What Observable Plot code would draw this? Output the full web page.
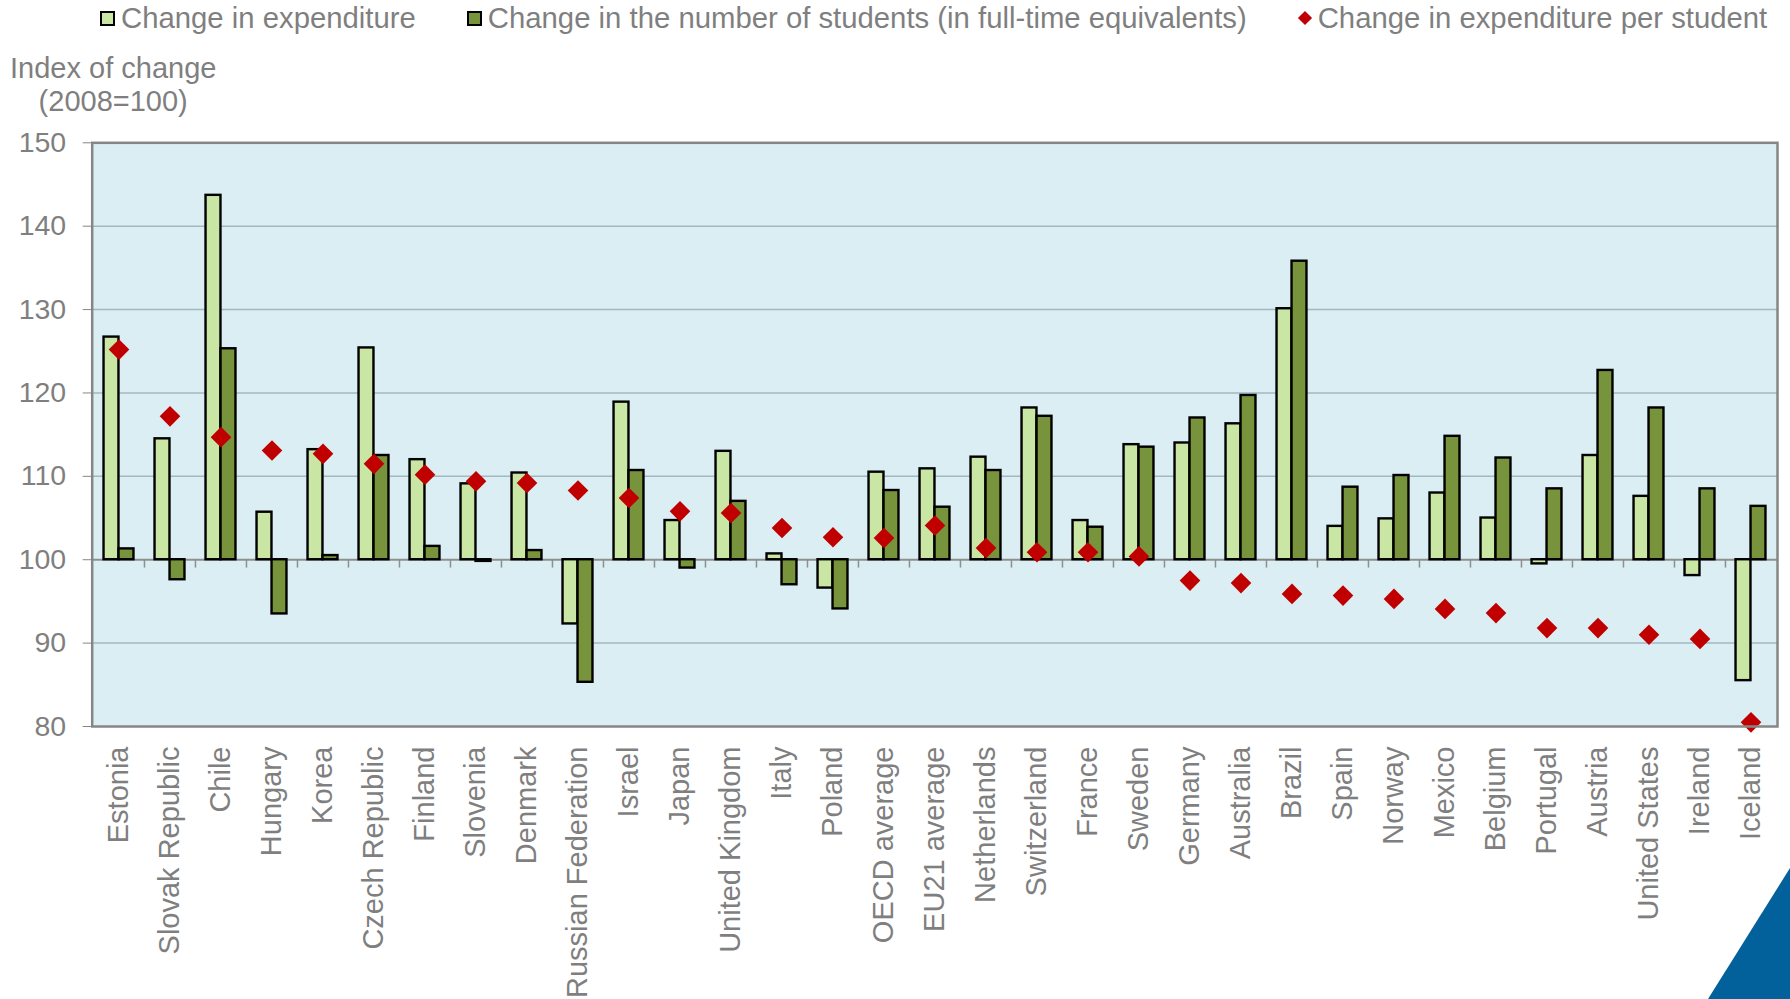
<!DOCTYPE html>
<html>
<head>
<meta charset="utf-8">
<script src="https://cdn.jsdelivr.net/npm/d3@7"></script>
<script src="https://cdn.jsdelivr.net/npm/@observablehq/plot@0.6"></script>
<style>
  body { margin: 0; background: #fff; font-family: "Liberation Sans", Arial, sans-serif; }
  #wrap { position: relative; width: 1790px; height: 999px; overflow: hidden; }
  #legend { height: 36px; display: flex; align-items: center; padding-left: 100px; gap: 51px;
            font-size: 29.3px; color: #7f7f7f; white-space: nowrap; }
  .item { display: flex; align-items: center; gap: 6px; }
  .sw { width: 11px; height: 11px; border: 2px solid #000; }
  .dia { width: 10px; height: 10px; background: #c00000; transform: rotate(45deg); margin: 0 2px; }
  #corner { position: absolute; right: 0; bottom: 0; width: 82px; height: 131px; background: #02609a;
            clip-path: polygon(0 100%, 100% 0, 100% 100%); }
</style>
</head>
<body>
<div id="wrap">
  <div id="legend"></div>
  <div id="chart"></div>
  <div id="corner"></div>
</div>
<script>
// Index of change between 2008 and the latest year (2008 = 100)
const countries = [
  "Estonia", "Slovak Republic", "Chile", "Hungary", "Korea", "Czech Republic", "Finland",
  "Slovenia", "Denmark", "Russian Federation", "Israel", "Japan", "United Kingdom", "Italy",
  "Poland", "OECD average", "EU21 average", "Netherlands", "Switzerland", "France", "Sweden",
  "Germany", "Australia", "Brazil", "Spain", "Norway", "Mexico", "Belgium", "Portugal",
  "Austria", "United States", "Ireland", "Iceland"
];
const expenditure = [
  126.7, 114.5, 143.7, 105.7, 113.2, 125.4, 112.0, 109.1, 110.4, 92.3, 118.9, 104.7, 113.0, 100.7,
  96.6, 110.5, 110.9, 112.3, 118.2, 104.7, 113.8, 114.0, 116.3, 130.1, 104.0, 104.9, 108.0, 105.0,
  99.5, 112.5, 107.6, 98.1, 85.5
];
const students = [
  101.3, 97.6, 125.3, 93.5, 100.5, 112.5, 101.6, 99.8, 101.1, 85.3, 110.7, 99.0, 107.0, 97.0,
  94.1, 108.3, 106.3, 110.7, 117.2, 103.9, 113.5, 117.0, 119.7, 135.8, 108.7, 110.1, 114.8, 112.2,
  108.5, 122.7, 118.2, 108.5, 106.4
];
const perStudent = [
  125.2, 117.2, 114.7, 113.1, 112.7, 111.5, 110.2, 109.4, 109.2, 108.3, 107.4, 105.8, 105.6, 103.8,
  102.7, 102.6, 104.1, 101.4, 100.9, 100.9, 100.4, 97.5, 97.2, 95.9, 95.7, 95.3, 94.1, 93.6,
  91.8, 91.8, 91.0, 90.5, 80.5
];
const yTicks = [80, 90, 100, 110, 120, 130, 140, 150];
const gridValues = [90, 110, 120, 130, 140];
const yTitle = ["Index of change", "(2008=100)"];
const seriesNames = [
  "Change in expenditure",
  "Change in the number of students (in full-time equivalents)",
  "Change in expenditure per student"
];

const colors = { expenditure: "#c9e6a4", students: "#77933c", perStudent: "#c00000" };

// Legend
const legend = document.getElementById("legend");
seriesNames.forEach((name, i) => {
  const item = document.createElement("div");
  item.className = "item";
  const key = document.createElement("div");
  if (i < 2) {
    key.className = "sw";
    key.style.background = i === 0 ? colors.expenditure : colors.students;
  } else {
    key.className = "dia";
  }
  const label = document.createElement("span");
  label.textContent = name;
  item.append(key, label);
  legend.append(item);
});

// Chart
const W = 1790, H = 963;
const mL = 91.7, mR = 13, mT = 106.3, mB = 273;
const band = (W - mL - mR) / countries.length;
const barW = 15;

const rows = countries.map((c, i) => ({
  country: c, exp: expenditure[i], stu: students[i], per: perStudent[i]
}));

const chart = Plot.plot({
  width: W,
  height: H,
  marginLeft: mL,
  marginRight: mR,
  marginTop: mT,
  marginBottom: mB,
  style: { fontFamily: "Liberation Sans, Arial, sans-serif", color: "#7f7f7f", background: "transparent", overflow: "visible" },
  x: { domain: countries, padding: 0 },
  y: { domain: [80, 150] },
  marks: [
    Plot.frame({ fill: "#daeef3" }),
    Plot.ruleY(gridValues, { stroke: "#a3b7c2", strokeWidth: 1.5 }),
    Plot.ruleY([100], { stroke: "#8f8f8f", strokeWidth: 2 }),
    Plot.ruleX(countries.slice(1), { x: d => d, y1: 100, y2: 99, dx: -band / 2, stroke: "#8f8f8f", strokeWidth: 1.5 }),
    Plot.barY(rows, {
      x: "country", y1: 100, y2: "exp", fill: colors.expenditure, stroke: "#000", strokeWidth: 2.4,
      insetLeft: band / 2 - barW, insetRight: band / 2
    }),
    Plot.barY(rows, {
      x: "country", y1: 100, y2: "stu", fill: colors.students, stroke: "#000", strokeWidth: 2.4,
      insetLeft: band / 2, insetRight: band / 2 - barW
    }),
    Plot.dot(rows, { x: "country", y: "per", symbol: "diamond2", r: 9.3, fill: colors.perStudent }),
    Plot.frame({ stroke: "#868686", strokeWidth: 2.5 }),
    Plot.axisY(yTicks, { tickSize: 9, tickPadding: 17, fontSize: 28.5, stroke: "#868686", label: null }),
    Plot.axisX({ tickRotate: -90, tickSize: 0, tickPadding: 20, fontSize: 29, label: null }),
    Plot.text([yTitle.join("\n")], {
      frameAnchor: "top-left", textAnchor: "middle", dx: 21, dy: -31.6, lineAnchor: "bottom", lineHeight: 1.14,
      fontSize: 29, fill: "#7f7f7f"
    })
  ]
});
document.getElementById("chart").append(chart);
</script>
</body>
</html>
